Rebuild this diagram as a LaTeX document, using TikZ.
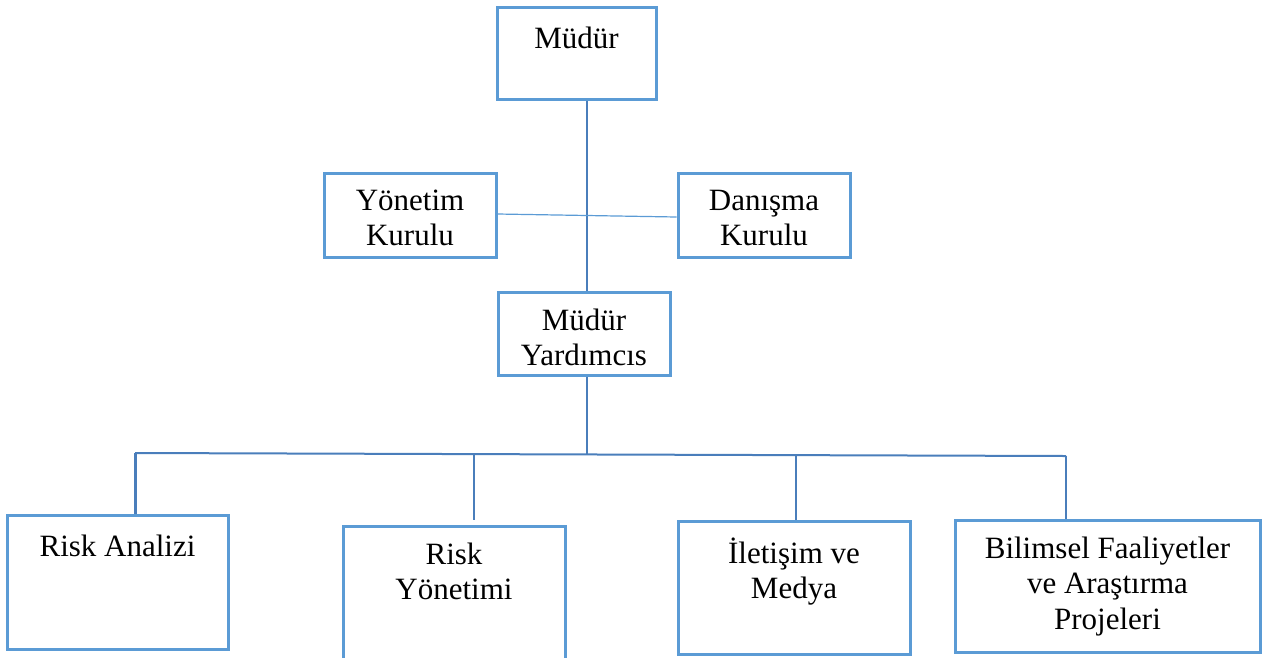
\documentclass[tikz,border=0pt]{standalone}
\usepackage{fontspec}
\setmainfont{Liberation Serif}
\definecolor{unitblue}{HTML}{5B9BD5}
\definecolor{linkblue}{HTML}{4A7EBB}
\tikzset{
  unit/.style 2 args={
    draw=unitblue,
    line width=3pt,
    fill=white,
    minimum width=#1pt,
    minimum height=#2pt,
    inner sep=0pt
  },
  unittext/.style={
    anchor=north,
    align=center,
    inner sep=0pt,
    yshift=-18pt,
    font=\fontsize{31}{35.5}\selectfont,
    execute at begin node=\strut
  },
  link/.style={
    draw=linkblue,
    line width=2pt
  }
}

\begin{document}
\begin{tikzpicture}[x=1pt, y=-1pt]
  \useasboundingbox (0,0) rectangle (1274,657);

  \node[unit={159}{92}, label={[unittext]north:Müdür}] (mudur) at (576.5,53) {};
  \node[unit={172}{84}, label={[unittext]north:Yönetim\\Kurulu}] (yk) at (410,215) {};
  \node[unit={172}{84}, label={[unittext]north:Danışma\\Kurulu}] (dk) at (764,215) {};
  \node[unit={172}{83}, label={[unittext]north:Müdür\\Yardımcıs}] (my) at (584,333.5) {};

  \node[unit={221}{134}, label={[unittext]north:Risk Analizi}] (ra) at (117.5,582) {};
  \node[unit={222}{134}, label={[unittext]north:Risk\\Yönetimi}] (ry) at (454,593) {};
  \node[unit={232}{133}, label={[unittext]north:İletişim ve\\Medya}] (im) at (794,587.5) {};
  \node[unit={305}{132}, label={[unittext]north:Bilimsel Faaliyetler\\ve Araştırma\\Projeleri}] (bf) at (1107.5,586) {};

  \coordinate (bus) at (587,454);
  \coordinate (d1) at (135,453);
  \coordinate (d2) at (474,455);
  \coordinate (d3) at (796,455);
  \coordinate (d4) at (1066,456);

  \draw[link] ([xshift=10.5pt]mudur.south) -- ([xshift=3pt]my.north);
  \draw[link, draw=unitblue, line width=1.2pt] ([yshift=1pt]yk.east) -- ([yshift=-2pt]dk.west);
  \draw[link] ([xshift=3pt]my.south) -- (bus);
  \draw[link] (d1) -- (d4);
  \draw[link, line width=3pt] (d1) -- (d1 |- ra.north);
  \draw[link, shorten >=5pt] (d2) -- (d2 |- ry.north);
  \draw[link] (d3) -- (d3 |- im.north);
  \draw[link] (d4) -- (d4 |- bf.north);
\end{tikzpicture}
\end{document}
